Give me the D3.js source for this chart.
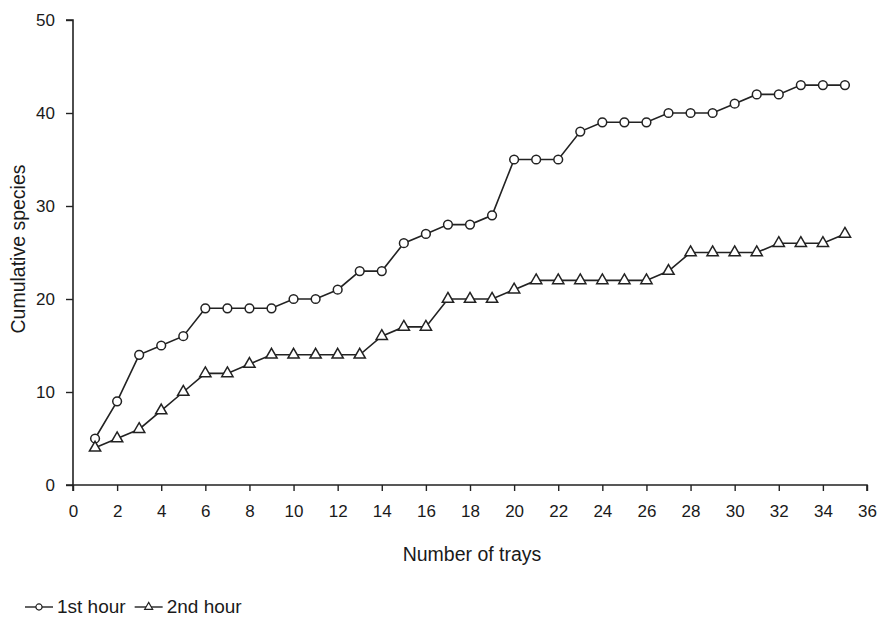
<!DOCTYPE html>
<html>
<head>
<meta charset="utf-8">
<script src="https://cdn.jsdelivr.net/npm/d3@7"></script>
<style>
  body { margin: 0; background: #fff; }
  svg text { font-family: "Liberation Sans", Arial, sans-serif; fill: #1a1a1a; }
</style>
</head>
<body>
<svg id="chart" width="885" height="619"></svg>
<script>
// Data
const trays = d3.range(1, 36);
const firstHour = [5, 9, 14, 15, 16, 19, 19, 19, 19, 20, 20, 21, 23, 23, 26, 27, 28, 28, 29, 35,
  35, 35, 38, 39, 39, 39, 40, 40, 40, 41, 42, 42, 43, 43, 43];
const secondHour = [4, 5, 6, 8, 10, 12, 12, 13, 14, 14, 14, 14, 14, 16, 17, 17, 20, 20, 20, 21,
  22, 22, 22, 22, 22, 22, 23, 25, 25, 25, 25, 26, 26, 26, 27];
const xTicks = d3.range(0, 37, 2);
const yTicks = [0, 10, 20, 30, 40, 50];

const svg = d3.select("#chart");
const margin = { top: 20, right: 18, bottom: 134, left: 73 };
const width = +svg.attr("width") - margin.left - margin.right;
const height = +svg.attr("height") - margin.top - margin.bottom;
const ink = "#222";

const chartArea = svg.append("g")
  .attr("transform", `translate(${margin.left},${margin.top})`);

const xScale = d3.scaleLinear().domain([0, 36]).range([0, width]);
const yScale = d3.scaleLinear().domain([0, 50]).range([height, 0]);

// Axes
const xAxis = chartArea.append("g")
  .attr("transform", `translate(0,${height})`)
  .call(d3.axisBottom(xScale).tickValues(xTicks).tickSize(6).tickPadding(14));
const yAxis = chartArea.append("g")
  .call(d3.axisLeft(yScale).tickValues(yTicks).tickSize(7).tickPadding(11));

[xAxis, yAxis].forEach((ax) => {
  ax.select(".domain").attr("stroke", ink).attr("stroke-width", 1.6);
  ax.selectAll(".tick line").attr("stroke", ink).attr("stroke-width", 1.4);
  ax.selectAll(".tick text").attr("font-size", 17).attr("fill", "#1a1a1a");
});
// domains without end caps past the ticks
yAxis.select(".domain").attr("d", `M-7,${yScale(50)}H0V${yScale(0)}H-7`);
xAxis.select(".domain").attr("d", `M0,6V0H${width}V6`);

// Axis titles
svg.append("text")
  .attr("x", 472)
  .attr("y", 561)
  .attr("text-anchor", "middle")
  .attr("font-size", 19.5)
  .text("Number of trays");

svg.append("text")
  .attr("transform", "translate(25,249) rotate(-90)")
  .attr("text-anchor", "middle")
  .attr("font-size", 19.5)
  .text("Cumulative species");

// Lines
const line = d3.line()
  .x((d) => xScale(d.x))
  .y((d) => yScale(d.y));

const series = [
  { name: "1st hour", values: firstHour, marker: d3.symbolCircle, size: 60 },
  { name: "2nd hour", values: secondHour, marker: d3.symbolTriangle, size: 55 },
];

series.forEach((s) => {
  const pts = trays.map((t, i) => ({ x: t, y: s.values[i] }));
  chartArea.append("path")
    .datum(pts)
    .attr("fill", "none")
    .attr("stroke", ink)
    .attr("stroke-width", 1.6)
    .attr("d", line);

  chartArea.selectAll(null)
    .data(pts)
    .join("path")
    .attr("transform", (d) => `translate(${xScale(d.x)},${yScale(d.y)})`)
    .attr("d", d3.symbol().type(s.marker).size(s.size))
    .attr("fill", "#fff")
    .attr("stroke", ink)
    .attr("stroke-width", 1.5);
});

// Legend
const legend = svg.append("g").attr("transform", "translate(25,607)");
let lx = 0;
series.forEach((s) => {
  const g = legend.append("g").attr("transform", `translate(${lx},0)`);
  g.append("line")
    .attr("x1", 0).attr("x2", 28).attr("y1", 0).attr("y2", 0)
    .attr("stroke", ink).attr("stroke-width", 1.4);
  g.append("path")
    .attr("transform", "translate(14,0)")
    .attr("d", d3.symbol().type(s.marker).size(s.size * 0.5))
    .attr("fill", "#fff")
    .attr("stroke", ink)
    .attr("stroke-width", 1.2);
  const t = g.append("text")
    .attr("x", 32).attr("y", 6)
    .attr("font-size", 19)
    .text(s.name);
  lx += 32 + t.node().getComputedTextLength() + 9;
});
</script>
</body>
</html>
